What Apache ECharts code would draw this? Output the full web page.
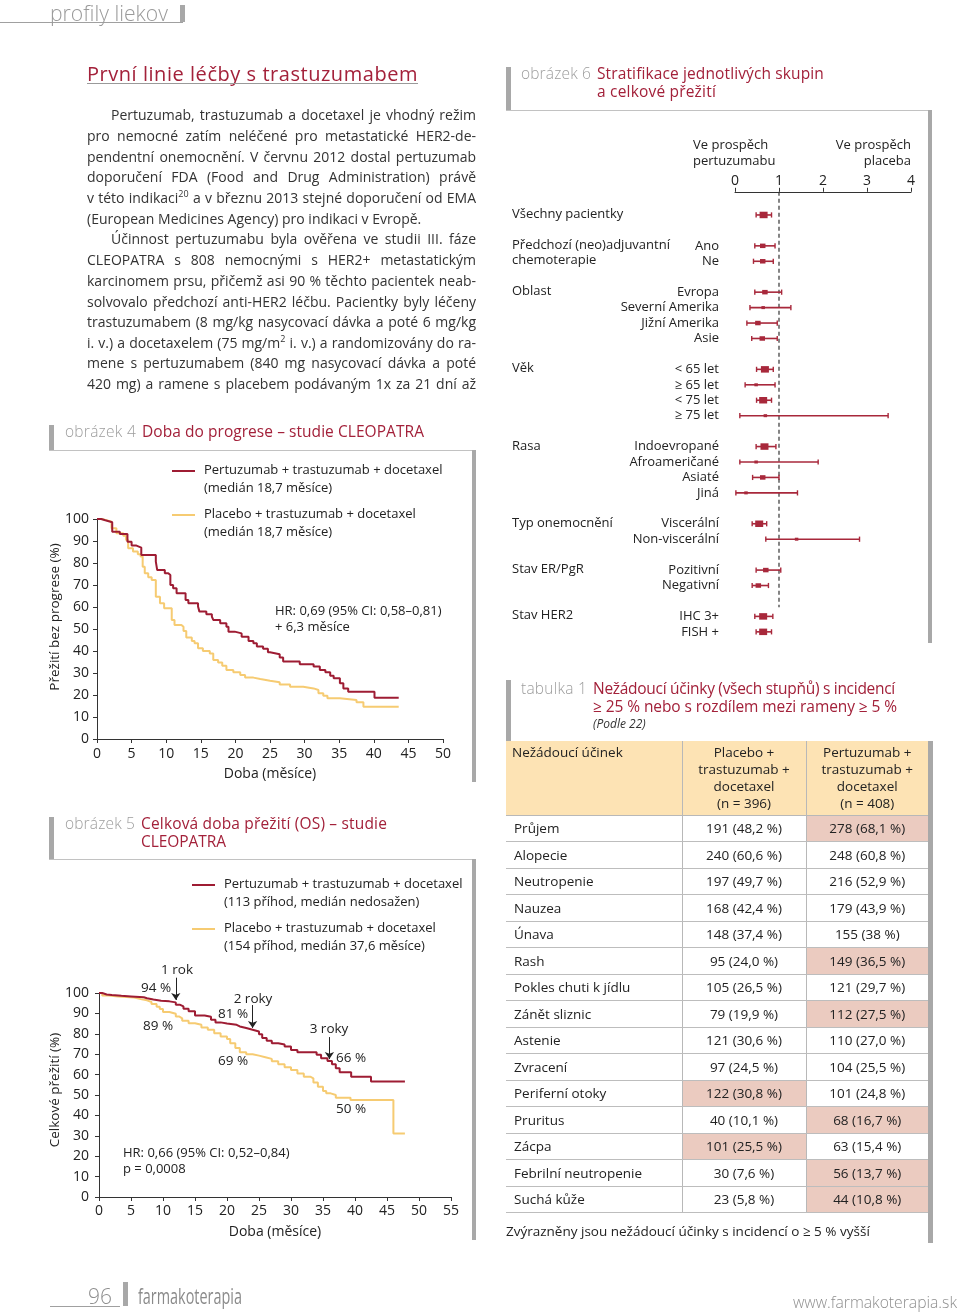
<!DOCTYPE html>
<html lang="cs">
<head>
<meta charset="utf-8">
<title>Pertuzumab – studie CLEOPATRA</title>
<script src="https://cdn.jsdelivr.net/npm/echarts@6.0.0/dist/echarts.min.js"></script>
<style>
html,body{margin:0;padding:0;background:#fff}
body{width:960px;height:1312px;position:relative;overflow:hidden;font-family:"Open Sans",sans-serif;color:#2b2b2b}
#chart{position:absolute;left:0;top:0;width:960px;height:1312px}
.abs{position:absolute;white-space:nowrap}
.bar{position:absolute;background:#a8a8a8}
.hl{position:absolute;background:#c2c2c2;height:1px}
.gray{color:#9d9d9d;font-weight:300}
.red{color:#a3213a}
.bl{position:absolute;white-space:nowrap;font-size:14px;line-height:21px;height:21px;color:#333}
.figt{position:absolute;white-space:nowrap;font-size:15.5px;line-height:18px}
#tbl{position:absolute;left:506px;top:741px;width:422px;border-collapse:collapse;table-layout:fixed;font-size:13.5px;color:#222}
#tbl td,#tbl th{padding:0;border:0}
#tbl thead th{background:#fde3b4;font-weight:400;vertical-align:top;height:74px;line-height:17px;padding-top:3px;box-sizing:border-box;border-bottom:1.5px solid #b8b8b8}
#tbl thead th+th{border-left:1px solid #b8b8b8}
#tbl tbody td{height:26.5px;border-bottom:1.5px solid #bdbdbd;text-align:center;box-sizing:border-box}
#tbl tbody td+td{border-left:1px solid #b8b8b8}
#tbl tbody td:first-child{text-align:left;padding-left:8px}
#tbl td.hi{background:#ebcbc0}
</style>
</head>
<body>
<div id="chart"></div>
<div id="page"></div>
<script>
// ---------------- DATA ----------------
// Figure 4: progression-free survival (months, %)
const pfsPertuzumab = [[0,100],[0.6,99.4],[1.2,99],[1.7,98.5],[2.2,94.2],[3.3,93.2],[4.4,89.7],[5,87.9],[5.7,87],[6.4,83.6],[8.5,80.6],[8.7,76.8],[9.8,75.3],[10.3,74.5],[10.6,70],[11,68.5],[11.5,66.2],[12.8,63.2],[13.2,61.7],[14.6,60.2],[14.8,57.9],[15.8,56.7],[16.6,55.6],[16.8,54.1],[17.8,52.6],[18.7,51],[19,48.8],[19.9,48],[20.9,46.5],[21.9,44.5],[22.6,43.5],[23.1,42],[24,41],[24.7,39.4],[25,38.5],[26.4,37],[26.9,35.2],[29.3,34],[31.3,32.9],[32.2,31.4],[33,30.3],[33.7,28.8],[34.2,27.6],[35.1,25.3],[35.6,23],[36.3,21.5],[40.1,18.8],[43.6,18.8]];
const pfsPlacebo = [[0,100],[0.7,99.5],[1.35,98.8],[2.1,95.8],[2.8,93.5],[3.8,92.4],[4.2,90.5],[4.5,86.7],[5.2,85.2],[5.9,84],[6.3,82.9],[6.6,78.3],[6.9,75.3],[7.4,73.5],[7.9,72.3],[8.5,64.7],[9.1,61.7],[9.7,59.4],[10.8,54.1],[11.2,51.8],[12.2,51],[12.5,49.1],[12.9,46.1],[13.7,44.5],[14.1,43.5],[14.6,41.2],[15.3,40],[16.3,38.9],[16.8,35.9],[17.5,34.8],[18.1,33.3],[18.7,31.4],[19.7,30.3],[20.7,29.1],[21.4,27.9],[22.6,27.3],[23.6,26.5],[25,25.8],[26.4,24.8],[27.9,23.8],[29.8,23],[31.3,22.3],[32,20.8],[32.7,19.7],[33.3,18.5],[35.1,17.7],[37.5,16.7],[38.5,14.7],[43.6,14.7]];
// Figure 5: overall survival (months, %)
const osPertuzumab = [[0,100],[0.5,99.3],[1.2,99],[2,98.6],[3.5,98.3],[5,97.9],[7,97.4],[7.5,96.8],[8.5,96.2],[9.7,95.9],[11,95.4],[12,94.3],[12.6,93.4],[13.2,92.3],[14,91],[15,89],[16.5,88.4],[17.5,86.9],[18.2,85.6],[19,85],[20,84.4],[21.5,83.6],[22,82.8],[23,82],[24,81.1],[25,79.8],[25.5,77.9],[26.2,76.6],[27,75.4],[28,74.8],[29,73.8],[30,72.1],[31,71],[34,69.7],[34.7,68],[35.7,66.7],[36.4,65.1],[37,63.1],[37.6,61.2],[39.4,59],[42.5,56.6],[47.8,56.6]];
const osPlacebo = [[0,100],[0.5,98.8],[1.5,98.3],[3,97.8],[5.5,97],[6.5,96.4],[7.5,95.6],[8.2,94.6],[9,93.3],[9.5,92.1],[10,90.7],[11,89.8],[12,88.5],[12.5,87.6],[13,86.4],[14,85.2],[15,84.4],[16,83.1],[17,82],[18,80.3],[19,78.7],[20,77.4],[20.5,75.4],[21.3,73],[22,71],[23,70],[24,69.3],[25,68.5],[26,67.7],[27,66.5],[28,65.1],[29,63.6],[30,62.3],[31,60.5],[32,59],[33,58.2],[33.5,56.1],[34.2,54.1],[35,52],[35.5,50.8],[36.2,50],[37,48.7],[39.3,47.5],[46,31.1],[47.8,31.1]];
// OS landmarks (months)
const osLandmarkMonths = [12, 24, 36];
const osLandmarkLabels = ['1 rok', '2 roky', '3 roky'];
const osLandmarkPertuz = ['94 %', '81 %', '66 %'];
const osLandmarkPlacebo = ['89 %', '69 %', '50 %'];

// Figure 6: forest plot (HR with 95% CI)
const forestGroups = ['Všechny pacientky', 'Předchozí (neo)adjuvantní\nchemoterapie', 'Oblast', 'Věk', 'Rasa', 'Typ onemocnění', 'Stav ER/PgR', 'Stav HER2'];
const forestGroupRow = [0, 2, 5, 10, 15, 20, 23, 26];
const forestSubgroups = ['', 'Ano', 'Ne', 'Evropa', 'Severní Amerika', 'Jižní Amerika', 'Asie', '< 65 let', '≥ 65 let', '< 75 let', '≥ 75 let', 'Indoevropané', 'Afroameričané', 'Asiaté', 'Jiná', 'Viscerální', 'Non-viscerální', 'Pozitivní', 'Negativní', 'IHC 3+', 'FISH +'];
const forestRow = [0, 2, 3, 5, 6, 7, 8, 10, 11, 12, 13, 15, 16, 17, 18, 20, 21, 23, 24, 26, 27];
const forestHR   = [0.65, 0.63, 0.63, 0.68, 0.64, 0.52, 0.62, 0.68, 0.48, 0.64, 0.69, 0.67, 0.48, 0.63, 0.25, 0.55, 1.40, 0.70, 0.53, 0.64, 0.64];
const forestLow  = [0.48, 0.45, 0.42, 0.45, 0.34, 0.27, 0.38, 0.49, 0.23, 0.49, 0.11, 0.48, 0.11, 0.40, 0.02, 0.39, 0.70, 0.48, 0.39, 0.45, 0.48];
const forestHigh = [0.83, 0.91, 0.87, 1.06, 1.27, 0.96, 0.96, 0.87, 0.91, 0.83, 3.48, 0.93, 1.89, 1.00, 1.42, 0.72, 2.83, 1.04, 0.76, 0.86, 0.83];
const forestWeight = [3, 2, 2, 2, 1, 2, 2, 3, 1, 3, 1, 3, 1, 2, 1, 3, 1, 2, 2, 3, 3];
const forestTicks = [0, 1, 2, 3, 4];

// Table 1: adverse events
const aeNames = ['Průjem', 'Alopecie', 'Neutropenie', 'Nauzea', 'Únava', 'Rash', 'Pokles chuti k jídlu', 'Zánět sliznic', 'Astenie', 'Zvracení', 'Periferní otoky', 'Pruritus', 'Zácpa', 'Febrilní neutropenie', 'Suchá kůže'];
const aePlaceboN = [191, 240, 197, 168, 148, 95, 105, 79, 121, 97, 122, 40, 101, 30, 23];
const aePlaceboPct = ['48,2', '60,6', '49,7', '42,4', '37,4', '24,0', '26,5', '19,9', '30,6', '24,5', '30,8', '10,1', '25,5', '7,6', '5,8'];
const aePertuzN = [278, 248, 216, 179, 155, 149, 121, 112, 110, 104, 101, 68, 63, 56, 44];
const aePertuzPct = ['68,1', '60,8', '52,9', '43,9', '38', '36,5', '29,7', '27,5', '27,0', '25,5', '24,8', '16,7', '15,4', '13,7', '10,8'];

// ---------------- STATIC PAGE TEXT ----------------
const FF = '"Open Sans", sans-serif';
const page = document.getElementById('page');
function add(html, css, cls) {
  const d = document.createElement('div');
  d.className = cls || 'abs';
  d.innerHTML = html;
  Object.assign(d.style, css || {});
  page.appendChild(d);
  return d;
}
function fitScale(el, target) {
  const w = el.getBoundingClientRect().width;
  el.style.transformOrigin = 'left center';
  el.style.transform = 'scaleX(' + (target / w) + ')';
}
function fitLS(el, target) {
  const w = el.getBoundingClientRect().width;
  const n = el.textContent.length;
  el.style.letterSpacing = ((target - w) / n) + 'px';
}
function justify(el, target) {
  el.style.wordSpacing = '0px';
  const w = el.getBoundingClientRect().width;
  const spaces = (el.textContent.match(/ /g) || []).length;
  if (spaces) el.style.wordSpacing = ((target - w) / spaces) + 'px';
}

// header
add('', {left: '0px', top: '22px', width: '183px', height: '1px', background: '#a0a0a0'}, 'abs');
const hdr = add('profily liekov', {left: '50px', top: '1px', fontSize: '22px', lineHeight: '22px', fontWeight: '300', color: '#9a9a9a'});
fitScale(hdr, 118);
add('', {left: '180px', top: '5px', width: '5px', height: '17px'}, 'bar');

// article title
const ttl = add('První linie léčby s trastuzumabem', {left: '87px', top: '62px', fontSize: '20px', lineHeight: '24px', color: '#a3213a'});
fitLS(ttl, 331);
add('', {left: '87px', top: '83px', width: '331px', height: '1px', background: '#9a9a9a'}, 'abs');

// body paragraph lines
const bodyLines = [
  ['Pertuzumab, trastuzumab a docetaxel je vhodný režim', 1],
  ['pro nemocné zatím neléčené pro metastatické HER2-de-', 0],
  ['pendentní onemocnění. V červnu 2012 dostal pertuzumab', 0],
  ['doporučení FDA (Food and Drug Administration) právě', 0],
  ['v této indikaci<sup style="font-size:9px;line-height:0">20</sup> a v březnu 2013 stejné doporučení od EMA', 0],
  ['(European Medicines Agency) pro indikaci v Evropě.', 2],
  ['Účinnost pertuzumabu byla ověřena ve studii III. fáze', 1],
  ['CLEOPATRA s 808 nemocnými s HER2+ metastatickým', 0],
  ['karcinomem prsu, přičemž asi 90 % těchto pacientek neab-', 0],
  ['solvovalo předchozí anti-HER2 léčbu. Pacientky byly léčeny', 0],
  ['trastuzumabem (8 mg/kg nasycovací dávka a poté 6 mg/kg', 0],
  ['i. v.) a docetaxelem (75 mg/m<sup style="font-size:9px;line-height:0">2</sup> i. v.) a randomizovány do ra-', 0],
  ['mene s pertuzumabem (840 mg nasycovací dávka a poté', 0],
  ['420 mg) a ramene s placebem podávaným 1x za 21 dní až', 0]
];
const bodyY = [115, 136, 157, 177, 198, 219, 239, 260, 281, 302, 322, 343, 363, 384];
bodyLines.forEach((l, i) => {
  const left = l[1] === 1 ? 111 : 87;
  const el = add(l[0], {left: left + 'px', top: (bodyY[i] - 11) + 'px'}, 'bl');
  if (l[1] !== 2) justify(el, 476 - left);
});

// figure headers + frames
function figHeader(x, y, label, redX, lines, widths) {
  const g = add(label, {left: x + 'px', top: (y - 10) + 'px'}, 'figt gray');
  fitLS(g, redX - x - 6);
  lines.forEach((t, i) => {
    const r = add(t, {left: redX + 'px', top: (y - 10 + i * 17.5) + 'px'}, 'figt red');
    fitLS(r, widths[i]);
  });
}
figHeader(65, 432, 'obrázek 4', 142, ['Doba do progrese – studie CLEOPATRA'], [282]);
add('', {left: '49px', top: '425px', width: '5px', height: '26px'}, 'bar');
add('', {left: '49px', top: '450px', width: '427px'}, 'hl');
add('', {left: '472px', top: '450px', width: '4px', height: '332px'}, 'bar');

figHeader(65, 824, 'obrázek 5', 141, ['Celková doba přežití (OS) – studie', 'CLEOPATRA'], [246, 85]);
add('', {left: '49px', top: '817px', width: '5px', height: '42px'}, 'bar');
add('', {left: '49px', top: '859px', width: '427px'}, 'hl');
add('', {left: '472px', top: '859px', width: '4px', height: '381px'}, 'bar');

figHeader(521, 74, 'obrázek 6', 597, ['Stratifikace jednotlivých skupin', 'a celkové přežití'], [227, 119]);
add('', {left: '506px', top: '67px', width: '5px', height: '44px'}, 'bar');
add('', {left: '506px', top: '110px', width: '426px'}, 'hl');
add('', {left: '928px', top: '110px', width: '4px', height: '533px'}, 'bar');

figHeader(521, 689, 'tabulka 1', 593, ['Nežádoucí účinky (všech stupňů) s incidencí', '≥ 25 % nebo s rozdílem mezi rameny ≥ 5 %'], [302, 304]);
add('(Podle 22)', {left: '593px', top: '716px', fontSize: '12px', lineHeight: '16px', fontStyle: 'italic', color: '#333'});
add('', {left: '506px', top: '680px', width: '5px', height: '61px'}, 'bar');
add('', {left: '928px', top: '741px', width: '5px', height: '502px'}, 'bar');

// table
(function buildTable() {
  const t = document.createElement('table');
  t.id = 'tbl';
  let h = '<colgroup><col style="width:176px"><col style="width:124px"><col style="width:122px"></colgroup>';
  h += '<thead><tr><th style="text-align:left;padding-left:6px">Nežádoucí účinek</th>' +
       '<th>Placebo +<br>trastuzumab +<br>docetaxel<br>(n = 396)</th>' +
       '<th>Pertuzumab +<br>trastuzumab +<br>docetaxel<br>(n = 408)</th></tr></thead><tbody>';
  aeNames.forEach((n, i) => {
    const p = parseFloat(aePlaceboPct[i].replace(',', '.'));
    const q = parseFloat(aePertuzPct[i].replace(',', '.'));
    const hiP = p - q >= 4.99, hiQ = q - p >= 4.99;
    h += '<tr><td>' + n + '</td><td' + (hiP ? ' class="hi"' : '') + '>' + aePlaceboN[i] + ' (' + aePlaceboPct[i] + ' %)</td>' +
         '<td' + (hiQ ? ' class="hi"' : '') + '>' + aePertuzN[i] + ' (' + aePertuzPct[i] + ' %)</td></tr>';
  });
  h += '</tbody>';
  t.innerHTML = h;
  page.appendChild(t);
})();
add('Zvýrazněny jsou nežádoucí účinky s incidencí o ≥ 5 % vyšší', {left: '506px', top: '1221px', fontSize: '13.5px', lineHeight: '20px', color: '#222'});

// footer
add('', {left: '50px', top: '1306px', width: '70px', height: '1px', background: '#a0a0a0'}, 'abs');
const pg = add('96', {left: '88px', top: '1284px', fontSize: '22px', lineHeight: '22px', fontWeight: '300', color: '#8f8f8f'});
fitScale(pg, 24);
add('', {left: '123px', top: '1282px', width: '5px', height: '24px'}, 'bar');
const fk = add('farmakoterapia', {left: '138px', top: '1284px', fontSize: '22px', lineHeight: '22px', fontWeight: '400', color: '#8a8a8a'});
fitScale(fk, 104);
const ww = add('www.farmakoterapia.sk', {left: '793px', top: '1292px', fontSize: '16px', lineHeight: '20px', fontWeight: '300', color: '#8f8f8f'});
fitScale(ww, 164);

// ---------------- CHARTS ----------------
const KM_RED = '#9e1c33', KM_YEL = '#f6cb72', FR = '#a8283b', TXT = '#222';
const chart = echarts.init(document.getElementById('chart'), null, {renderer: 'canvas', width: 960, height: 1312});

function kmX(grid, max, margin) {
  return {gridIndex: grid, type: 'value', min: 0, max: max, interval: 5,
    axisLine: {show: true, lineStyle: {color: '#333', width: 1}},
    axisTick: {show: true, length: 4, lineStyle: {color: '#333'}},
    axisLabel: {color: TXT, fontSize: 14, margin: margin, fontFamily: FF},
    splitLine: {show: false},
    name: 'Doba (měsíce)', nameLocation: 'middle', nameGap: 28,
    nameTextStyle: {color: TXT, fontSize: 14, fontFamily: FF}};
}
function kmY(grid, margin) {
  return {gridIndex: grid, type: 'value', min: 0, max: 100, interval: 10,
    axisLine: {show: true, lineStyle: {color: '#333', width: 1}},
    axisTick: {show: true, length: 4, lineStyle: {color: '#333'}},
    axisLabel: {color: TXT, fontSize: 14, margin: margin, fontFamily: FF},
    splitLine: {show: false}};
}
function km(data, color, xi, z) {
  return {type: 'line', xAxisIndex: xi, yAxisIndex: xi, data: data, step: 'end', symbol: 'none',
    lineStyle: {color: color, width: 2}, z: z, silent: true, animation: false};
}
function legendItem(x, y, color, text) {
  return [
    {type: 'line', shape: {x1: x, y1: y, x2: x + 23, y2: y}, style: {stroke: color, lineWidth: 2}},
    {type: 'text', x: x + 32, y: y - 9, style: {text: text, fill: TXT, fontSize: 13, lineHeight: 17.5, fontFamily: FF, verticalAlign: 'top'}}
  ];
}
function txt(x, y, s, opt) {
  return {type: 'text', x: x, y: y, style: Object.assign({text: s, fill: TXT, fontSize: 13.5, fontFamily: FF, align: 'center', verticalAlign: 'middle'}, opt || {})};
}

const forestData = forestRow.map((r, i) => [forestHR[i], r, forestLow[i], forestHigh[i], forestWeight[i], i]);
const groupData = forestGroupRow.map((r, i) => [0, r, i]);

const option = {
  animation: false,
  textStyle: {fontFamily: FF},
  grid: [
    {left: 97, top: 519, width: 346, height: 220},
    {left: 99, top: 993, width: 352, height: 204},
    {left: 735, top: 191.8, width: 176, height: 463.2}
  ],
  xAxis: [
    kmX(0, 50, 8),
    kmX(1, 55, 7),
    {gridIndex: 2, type: 'value', position: 'top', min: forestTicks[0], max: forestTicks[forestTicks.length - 1], interval: 1,
      axisLine: {show: true, onZero: false, lineStyle: {color: '#333', width: 1}},
      axisTick: {show: true, length: 4, lineStyle: {color: '#333'}},
      axisLabel: {color: TXT, fontSize: 14, margin: 4, fontFamily: FF},
      splitLine: {show: false}}
  ],
  yAxis: [
    kmY(0, 8),
    kmY(1, 10),
    {gridIndex: 2, type: 'value', min: -1.5, max: 28.5, inverse: true, show: false}
  ],
  series: [
    km(pfsPlacebo, KM_YEL, 0, 2),
    km(pfsPertuzumab, KM_RED, 0, 3),
    km(osPlacebo, KM_YEL, 1, 2),
    km(osPertuzumab, KM_RED, 1, 3),
    {type: 'lines', coordinateSystem: 'cartesian2d', xAxisIndex: 1, yAxisIndex: 1, clip: false, silent: true, z: 5,
      symbol: ['none', 'arrow'], symbolSize: 7,
      lineStyle: {color: '#222', width: 1, opacity: 1},
      data: [
        {coords: [[osLandmarkMonths[0], 107.5], [osLandmarkMonths[0], 96.6]]},
        {coords: [[osLandmarkMonths[1], 94.1], [osLandmarkMonths[1], 82.9]]},
        {coords: [[osLandmarkMonths[2], 78.4], [osLandmarkMonths[2], 67.6]]}
      ]},
    {type: 'line', xAxisIndex: 2, yAxisIndex: 2, data: [[1, -1.5], [1, 25.4]], symbol: 'none', silent: true,
      lineStyle: {color: '#333', width: 1.2, type: [4, 3]}, z: 1},
    {type: 'custom', xAxisIndex: 2, yAxisIndex: 2, data: forestData, clip: false, silent: true, z: 3,
      encode: {x: 0, y: 1},
      renderItem: function (params, api) {
        const row = api.value(1), i = api.value(5), w = api.value(4);
        const c = api.coord([api.value(0), row]);
        const lo = api.coord([api.value(2), row]);
        const hi = api.coord([api.value(3), row]);
        const zero = api.coord([0, row]);
        const bw = [0, 3.5, 5.5, 8][w], bh = [0, 3, 4.5, 6.5][w];
        return {type: 'group', children: [
          {type: 'line', shape: {x1: lo[0], y1: c[1], x2: hi[0], y2: c[1]}, style: {stroke: FR, lineWidth: 1.6}},
          {type: 'line', shape: {x1: lo[0], y1: c[1] - 2.6, x2: lo[0], y2: c[1] + 2.6}, style: {stroke: FR, lineWidth: 1.4}},
          {type: 'line', shape: {x1: hi[0], y1: c[1] - 2.6, x2: hi[0], y2: c[1] + 2.6}, style: {stroke: FR, lineWidth: 1.4}},
          {type: 'rect', shape: {x: c[0] - bw / 2, y: c[1] - bh / 2, width: bw, height: bh}, style: {fill: FR}},
          {type: 'text', x: zero[0] - 16, y: c[1], style: {text: forestSubgroups[i], fill: TXT, fontSize: 13, fontFamily: FF, align: 'right', verticalAlign: 'middle'}}
        ]};
      }},
    {type: 'custom', xAxisIndex: 2, yAxisIndex: 2, data: groupData, clip: false, silent: true, z: 3,
      encode: {x: 0, y: 1},
      renderItem: function (params, api) {
        const p = api.coord([0, api.value(1)]);
        return {type: 'text', x: 512, y: p[1] - 8.5, style: {text: forestGroups[api.value(2)], fill: TXT, fontSize: 13, lineHeight: 15.5, fontFamily: FF, align: 'left', verticalAlign: 'top'}};
      }}
  ],
  graphic: [
    // figure 4
    ...legendItem(172, 471, KM_RED, 'Pertuzumab + trastuzumab + docetaxel\n(medián 18,7 měsíce)'),
    ...legendItem(172, 515, KM_YEL, 'Placebo + trastuzumab + docetaxel\n(medián 18,7 měsíce)'),
    {type: 'text', x: 275, y: 604, style: {text: 'HR: 0,69 (95% CI: 0,58–0,81)\n+ 6,3 měsíce', fill: TXT, fontSize: 13, lineHeight: 15.5, fontFamily: FF, verticalAlign: 'top'}},
    {type: 'text', x: 55, y: 617, rotation: Math.PI / 2, style: {text: 'Přežití bez progrese (%)', fill: TXT, fontSize: 13.5, fontFamily: FF, align: 'center', verticalAlign: 'middle'}},
    // figure 5
    ...legendItem(192, 885, KM_RED, 'Pertuzumab + trastuzumab + docetaxel\n(113 příhod, medián nedosažen)'),
    ...legendItem(192, 929, KM_YEL, 'Placebo + trastuzumab + docetaxel\n(154 příhod, medián 37,6 měsíce)'),
    {type: 'text', x: 123, y: 1146, style: {text: 'HR: 0,66 (95% CI: 0,52–0,84)\np = 0,0008', fill: TXT, fontSize: 13, lineHeight: 15.5, fontFamily: FF, verticalAlign: 'top'}},
    {type: 'text', x: 55, y: 1090, rotation: Math.PI / 2, style: {text: 'Celkové přežití (%)', fill: TXT, fontSize: 13.5, fontFamily: FF, align: 'center', verticalAlign: 'middle'}},
    txt(177, 970, osLandmarkLabels[0]), txt(156, 988, osLandmarkPertuz[0]), txt(158, 1026, osLandmarkPlacebo[0]),
    txt(253, 999, osLandmarkLabels[1]), txt(233, 1014, osLandmarkPertuz[1]), txt(233, 1061, osLandmarkPlacebo[1]),
    txt(329, 1029, osLandmarkLabels[2]), txt(351, 1058, osLandmarkPertuz[2]), txt(351, 1109, osLandmarkPlacebo[2]),
    // figure 6 headings
    {type: 'text', x: 693, y: 137.5, style: {text: 'Ve prospěch\npertuzumabu', fill: TXT, fontSize: 13, lineHeight: 16, fontFamily: FF, align: 'left', verticalAlign: 'top'}},
    {type: 'text', x: 911, y: 137.5, style: {text: 'Ve prospěch\nplaceba', fill: TXT, fontSize: 13, lineHeight: 16, fontFamily: FF, align: 'right', verticalAlign: 'top'}}
  ]
};
chart.setOption(option);
</script>
</body>
</html>
